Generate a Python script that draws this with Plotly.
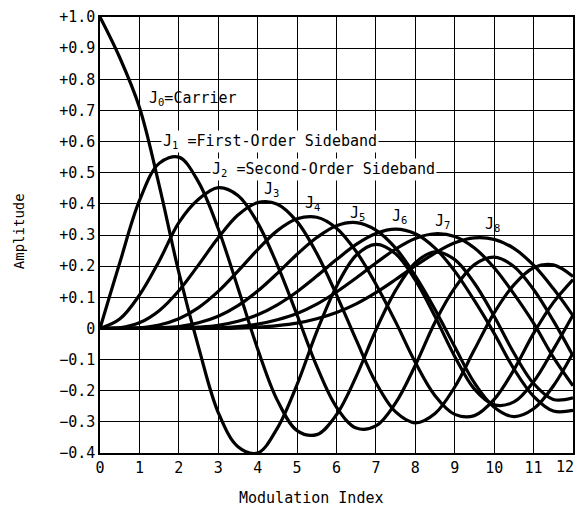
import plotly.graph_objects as go

# Modulation index sample points
x_index = [0, 0.5, 1, 1.5, 2, 2.5, 3, 3.5, 4, 4.5, 5, 5.5, 6, 6.5, 7, 7.5, 8, 8.5,
           9, 9.5, 10, 10.5, 11, 11.5, 12]

# Amplitudes
J0 = [1.00, 0.87, 0.71, 0.46, 0.18, -0.06, -0.27, -0.38, -0.40, -0.32, -0.18, -0.01,
      0.135, 0.235, 0.27, 0.24, 0.155, 0.038, -0.09, -0.195, -0.245, -0.236, -0.171, -0.068, 0.043]
J1 = [0, 0.21, 0.41, 0.53, 0.55, 0.47, 0.32, 0.13, -0.066, -0.231, -0.328, -0.341,
      -0.277, -0.154, -0.005, 0.122, 0.211, 0.246, 0.221, 0.145, 0.039, -0.079, -0.177, -0.228, -0.223]
J2 = [0, 0.03, 0.107, 0.216, 0.34, 0.415, 0.452, 0.427, 0.339, 0.203, 0.043, -0.122,
      -0.253, -0.32, -0.313, -0.239, -0.118, 0.02, 0.13, 0.205, 0.229, 0.199, 0.125, 0.025, -0.088]
J3 = [0, 0.002, 0.018, 0.057, 0.121, 0.204, 0.291, 0.364, 0.404, 0.399, 0.343, 0.241,
      0.108, -0.037, -0.174, -0.268, -0.303, -0.273, -0.188, -0.068, 0.05, 0.14, 0.195, 0.204, 0.167]
J4 = [0, 0, 0.002, 0.011, 0.031, 0.067, 0.119, 0.184, 0.253, 0.314, 0.352, 0.357,
      0.322, 0.247, 0.142, 0.021, -0.109, -0.216, -0.276, -0.28, -0.228, -0.133, -0.016, 0.083, 0.157]
J5 = [0, 0, 0, 0.002, 0.006, 0.018, 0.039, 0.073, 0.12, 0.177, 0.238, 0.292,
      0.33, 0.34, 0.316, 0.258, 0.169, 0.061, -0.059, -0.175, -0.253, -0.283, -0.258, -0.185, -0.079]
J6 = [0, 0, 0, 0, 0.001, 0.004, 0.01, 0.023, 0.044, 0.076, 0.118, 0.168,
      0.221, 0.27, 0.305, 0.319, 0.304, 0.258, 0.184, 0.089, -0.016, -0.13, -0.218, -0.265, -0.263]
J7 = [0, 0, 0, 0, 0, 0.001, 0.002, 0.006, 0.014, 0.028, 0.048, 0.078,
      0.117, 0.162, 0.21, 0.255, 0.289, 0.304, 0.295, 0.258, 0.195, 0.111, 0.017, -0.092, -0.184]
J8 = [0, 0, 0, 0, 0, 0, 0, 0.001, 0.004, 0.009, 0.017, 0.031,
      0.051, 0.079, 0.115, 0.157, 0.201, 0.242, 0.275, 0.291, 0.286, 0.257, 0.203, 0.128, 0.041]

series = [J0, J1, J2, J3, J4, J5, J6, J7, J8]

# Tick labels
x_tickvals = list(range(0, 13))
x_ticktext = [str(v) for v in x_tickvals]
y_tickvals = [1.0, 0.9, 0.8, 0.7, 0.6, 0.5, 0.4, 0.3, 0.2, 0.1, 0.0,
              -0.1, -0.2, -0.3, -0.4]
y_ticktext = ["+1.0", "+0.9", "+0.8", "+0.7", "+0.6", "+0.5", "+0.4", "+0.3",
              "+0.2", "+0.1", "0", "\u22120.1", "\u22120.2", "\u22120.3", "\u22120.4"]

# Curve labels
label_texts = ["J<sub>0</sub>=Carrier",
               "J<sub>1</sub> =First-Order Sideband",
               "J<sub>2</sub> =Second-Order Sideband",
               "J<sub>3</sub>", "J<sub>4</sub>", "J<sub>5</sub>",
               "J<sub>6</sub>", "J<sub>7</sub>", "J<sub>8</sub>"]
label_x = [1.18, 1.55, 2.80, 4.34, 5.38, 6.52, 7.6, 8.68, 9.95]
label_y = [0.737, 0.60, 0.51, 0.445, 0.40, 0.37, 0.36, 0.343, 0.333]

FONT = "DejaVu Sans Mono"

fig = go.Figure()
for i, ys in enumerate(series):
    fig.add_trace(go.Scatter(
        x=x_index, y=ys, mode="lines", name=f"J{i}",
        line=dict(color="black", width=3.2, shape="spline", smoothing=1.0),
        showlegend=False, hoverinfo="skip"))

for i, (t, lx, ly) in enumerate(zip(label_texts, label_x, label_y)):
    big = i < 3
    fig.add_annotation(
        x=lx, y=ly, xref="x", yref="y", text=t, showarrow=False,
        xanchor="left" if big else "center", yanchor="middle",
        font=dict(family=FONT, size=15, color="black"),
        bgcolor="white" if i in (1, 2) else "rgba(0,0,0,0)",
        borderpad=1)

# last x tick label sits at the right edge: draw it right-aligned
x_ticktext_axis = x_ticktext[:-1] + [""]
fig.add_annotation(
    x=x_tickvals[-1], y=0, xref="x", yref="paper", text=x_ticktext[-1],
    showarrow=False, xanchor="right", yanchor="top", yshift=-3, xshift=3,
    font=dict(family=FONT, size=15, color="black"))

fig.add_annotation(
    x=0.448, y=-0.103, xref="paper", yref="paper", text="Modulation Index",
    showarrow=False, xanchor="center", yanchor="middle",
    font=dict(family=FONT, size=15, color="black"))
fig.add_annotation(
    x=-0.171, y=0.509, xref="paper", yref="paper", text="Amplitude",
    showarrow=False, textangle=-90, xanchor="center", yanchor="middle",
    font=dict(family=FONT, size=14, color="black"))

fig.update_xaxes(
    range=[0, 12], tickmode="array", tickvals=x_tickvals, ticktext=x_ticktext_axis,
    showgrid=True, gridcolor="black", gridwidth=1.3,
    showline=True, linecolor="black", linewidth=1.5, mirror=True,
    zeroline=False, ticks="", ticklen=0,
    tickfont=dict(family=FONT, size=15, color="black"))
fig.update_yaxes(
    range=[-0.4, 1.0], tickmode="array", tickvals=y_tickvals, ticktext=y_ticktext,
    showgrid=True, gridcolor="black", gridwidth=1.3,
    showline=True, linecolor="black", linewidth=1.5, mirror=True,
    zeroline=False, ticks="", ticklen=0,
    tickfont=dict(family=FONT, size=15, color="black"))

fig.update_layout(
    width=577, height=510,
    margin=dict(l=100, r=4, t=17, b=57, autoexpand=False),
    paper_bgcolor="white", plot_bgcolor="white",
    showlegend=False)

fig.write_html(
    "out.html",
    config={"displayModeBar": False},
    post_script="document.body.style.margin='0';document.body.style.overflow='hidden';")
